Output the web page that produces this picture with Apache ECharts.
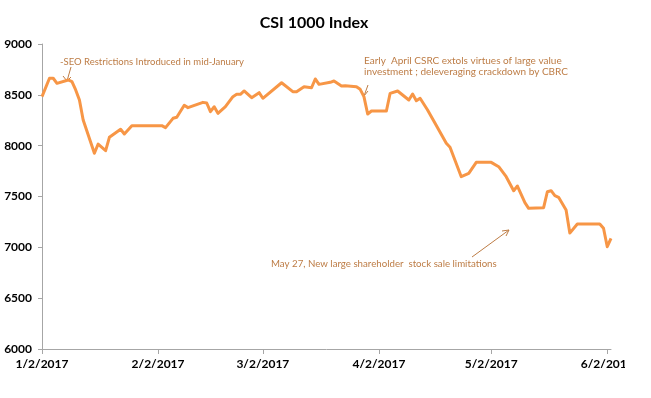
<!DOCTYPE html>
<html>
<head>
<meta charset="utf-8">
<script src="https://cdn.jsdelivr.net/npm/echarts@6/dist/echarts.min.js"></script>
<style>
  html, body { margin: 0; padding: 0; background: #fff; }
  #page { width: 651px; height: 398px; background: #fff; }
  #chart { width: 625px; height: 398px; }
</style>
</head>
<body>
<div id="page"><div id="chart"></div></div>
<script>
// 数据：日期与指数收盘值
const dates = [
  '2017-01-02', '2017-01-04', '2017-01-05', '2017-01-06', '2017-01-09', '2017-01-10',
  '2017-01-11', '2017-01-12', '2017-01-13', '2017-01-16', '2017-01-17', '2017-01-19',
  '2017-01-20', '2017-01-23', '2017-01-24', '2017-01-26', '2017-02-03', '2017-02-04',
  '2017-02-06', '2017-02-07', '2017-02-09', '2017-02-10', '2017-02-14', '2017-02-15',
  '2017-02-16', '2017-02-17', '2017-02-18', '2017-02-20', '2017-02-22', '2017-02-23',
  '2017-02-24', '2017-02-25', '2017-02-27', '2017-03-01', '2017-03-02', '2017-03-07',
  '2017-03-10', '2017-03-11', '2017-03-13', '2017-03-15', '2017-03-16', '2017-03-17',
  '2017-03-20', '2017-03-21', '2017-03-23', '2017-03-24', '2017-03-27', '2017-03-28',
  '2017-03-29', '2017-03-30', '2017-03-31', '2017-04-04', '2017-04-05', '2017-04-07',
  '2017-04-10', '2017-04-11', '2017-04-12', '2017-04-13', '2017-04-15', '2017-04-17',
  '2017-04-20', '2017-04-21', '2017-04-24', '2017-04-26', '2017-04-28', '2017-05-02',
  '2017-05-04', '2017-05-06', '2017-05-08', '2017-05-09', '2017-05-11', '2017-05-12',
  '2017-05-16', '2017-05-17', '2017-05-18', '2017-05-19', '2017-05-20', '2017-05-22',
  '2017-05-23', '2017-05-25', '2017-05-31', '2017-06-01', '2017-06-02', '2017-06-03'
]
const values = [
  8482, 8663, 8663, 8613, 8646, 8630,
  8548, 8449, 8252, 7925, 8016, 7951,
  8082, 8161, 8115, 8197, 8197, 8177,
  8269, 8279, 8397, 8374, 8426, 8420,
  8334, 8383, 8318, 8383, 8482, 8505,
  8505, 8538, 8472, 8521, 8466, 8619,
  8531, 8531, 8580, 8570, 8656, 8603,
  8623, 8636, 8587, 8590, 8580, 8554,
  8482, 8311, 8341, 8341, 8515, 8538,
  8449, 8508, 8442, 8466, 8351, 8220,
  8023, 7984, 7695, 7728, 7836, 7836,
  7793, 7695, 7557, 7603, 7439, 7384,
  7390, 7547, 7557, 7508, 7492, 7367,
  7140, 7230, 7230, 7187, 7006, 7089
]

// 坐标轴刻度
const tickDates = ['2017-01-02', '2017-02-02', '2017-03-02', '2017-04-02', '2017-05-02', '2017-06-02']
const tickLabels = ['1/2/2017', '2/2/2017', '3/2/2017', '4/2/2017', '5/2/2017', '6/2/2017']
const yTicks = [6000, 6500, 7000, 7500, 8000, 8500, 9000]

const toTs = (s) => {
  const [y, m, d] = s.split('-').map(Number)
  return new Date(y, m - 1, d).getTime()
}

const tickTs = tickDates.map(toTs)
const seriesData = dates.map((d, i) => [toTs(d), values[i]])

const noteColor = '#BD7C45'
const noteFont = 'Lato, "Open Sans", sans-serif'

const chart = echarts.init(document.getElementById('chart'), null, { renderer: 'canvas' })

chart.setOption({
  animation: false,
  title: {
    text: 'CSI 1000 Index',
    left: 309,
    textAlign: 'center',
    top: 10,
    textStyle: {
      fontFamily: 'Lato, sans-serif',
      fontWeight: 'bold',
      fontSize: 16,
      color: '#000'
    }
  },
  grid: {
    left: 42,
    right: 14,
    top: 44,
    bottom: 49,
    outerBoundsMode: 'none'
  },
  // 日期轴：用时间戳数值轴，刻度放在每月 2 日
  xAxis: {
    type: 'value',
    min: toTs('2017-01-02'),
    max: toTs('2017-06-03'),
    axisLine: { lineStyle: { color: '#A6A6A6', width: 1 } },
    axisTick: {
      show: true,
      length: 5,
      customValues: tickTs,
      lineStyle: { color: '#A6A6A6' }
    },
    axisLabel: {
      customValues: tickTs,
      margin: 9,
      fontFamily: 'Lato, sans-serif',
      fontWeight: 'bold',
      fontSize: 12,
      color: '#000',
      hideOverlap: false,
      formatter: (val) => {
        const idx = tickTs.indexOf(val)
        return idx >= 0 ? tickLabels[idx] : ''
      }
    },
    splitLine: { show: false }
  },
  yAxis: {
    type: 'value',
    min: yTicks[0],
    max: yTicks[yTicks.length - 1],
    interval: 500,
    axisLine: { show: true, lineStyle: { color: '#A6A6A6', width: 1 } },
    axisTick: { show: true, length: 4, lineStyle: { color: '#A6A6A6' } },
    axisLabel: {
      margin: 10,
      fontFamily: 'Lato, sans-serif',
      fontWeight: 'bold',
      fontSize: 12,
      color: '#000',
      formatter: (val) => String(val)
    },
    splitLine: { show: false }
  },
  series: [
    {
      name: 'CSI 1000',
      type: 'line',
      data: seriesData,
      showSymbol: false,
      symbol: 'none',
      lineStyle: { color: '#F79646', width: 3, join: 'round' }
    }
  ],
  graphic: [
    {
      type: 'text',
      left: 60,
      top: 57,
      style: {
        text: '-SEO Restrictions Introduced in mid-January',
        fill: noteColor,
        font: '9.5px ' + noteFont
      }
    },
    {
      type: 'polyline',
      shape: { points: [[71, 67], [67, 81]] },
      style: { stroke: noteColor, lineWidth: 1, fill: null }
    },
    {
      type: 'polyline',
      shape: { points: [[63, 76], [67, 81], [71, 77]] },
      style: { stroke: noteColor, lineWidth: 1, fill: null }
    },
    {
      type: 'text',
      left: 364,
      top: 55,
      style: {
        text: 'Early  April CSRC extols virtues of large value\ninvestment ; deleveraging crackdown by CBRC',
        fill: noteColor,
        font: '10px ' + noteFont,
        lineHeight: 11
      }
    },
    {
      type: 'polyline',
      shape: { points: [[368, 85], [364, 96]] },
      style: { stroke: noteColor, lineWidth: 1, fill: null }
    },
    {
      type: 'polyline',
      shape: { points: [[361, 90], [364, 96], [368, 91]] },
      style: { stroke: noteColor, lineWidth: 1, fill: null }
    },
    {
      type: 'text',
      left: 271,
      top: 259,
      style: {
        text: 'May 27, New large shareholder  stock sale limitations',
        fill: noteColor,
        font: '9.7px ' + noteFont
      }
    },
    {
      type: 'polyline',
      shape: { points: [[472, 257], [509, 230]] },
      style: { stroke: noteColor, lineWidth: 1, fill: null }
    },
    {
      type: 'polyline',
      shape: { points: [[502, 231], [509, 230], [506, 236]] },
      style: { stroke: noteColor, lineWidth: 1, fill: null }
    }
  ]
})
</script>
</body>
</html>
